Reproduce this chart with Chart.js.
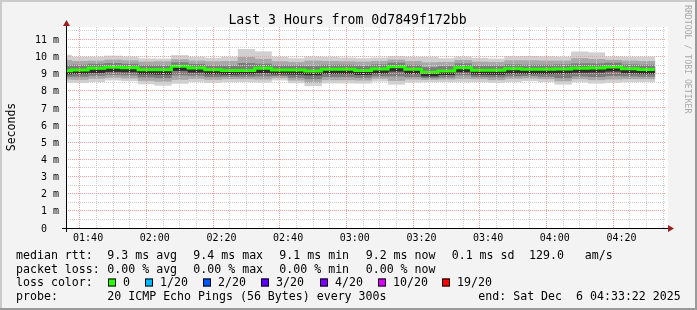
<!DOCTYPE html>
<html><head><meta charset="utf-8">
<script src="https://cdn.jsdelivr.net/npm/chart.js@4.4.1/dist/chart.umd.min.js"></script>
<style>html,body{margin:0;padding:0;background:#f3f3f3;}canvas{display:block}</style>
</head><body>
<canvas id="c" width="697" height="310"></canvas>
<script>
// ---- data ----
const stepEnds = ['01:35','01:40','01:45','01:50','01:55','02:00','02:05','02:10','02:15','02:20','02:25','02:30',
  '02:35','02:40','02:45','02:50','02:55','03:00','03:05','03:10','03:15','03:20','03:25','03:30',
  '03:35','03:40','03:45','03:50','03:55','04:00','04:05','04:10','04:15','04:20','04:25','04:30'];
const medianRtt = [9.17,9.21,9.31,9.38,9.35,9.23,9.23,9.43,9.33,9.23,9.19,9.19,
  9.31,9.21,9.22,9.16,9.25,9.26,9.18,9.27,9.40,9.25,9.08,9.16,
  9.35,9.20,9.20,9.28,9.25,9.26,9.27,9.32,9.33,9.39,9.29,9.24];
const smokeMax = [10.08,9.95,9.95,10.03,9.97,9.87,9.86,10.06,9.95,9.89,9.95,10.42,
  10.28,9.95,9.88,9.98,9.95,9.92,9.88,9.92,10.00,9.95,9.95,9.88,
  9.97,9.90,9.86,10.00,10.01,9.99,9.96,10.27,10.22,9.98,9.95,9.96];
const smokeP85 = [9.78,9.72,9.74,9.80,9.76,9.68,9.70,9.82,9.74,9.70,9.72,9.95,
  9.85,9.70,9.66,9.74,9.72,9.70,9.68,9.72,9.80,9.72,9.64,9.66,
  9.78,9.68,9.66,9.76,9.76,9.74,9.74,9.88,9.84,9.78,9.74,9.72];
const smokeP70 = [9.48,9.50,9.56,9.60,9.56,9.48,9.47,9.64,9.55,9.47,9.46,9.60,
  9.56,9.47,9.46,9.44,9.50,9.50,9.45,9.52,9.62,9.50,9.36,9.42,
  9.58,9.46,9.45,9.52,9.50,9.50,9.52,9.58,9.58,9.62,9.52,9.50];
const smokeCoreLo = [8.98,9.00,9.06,9.12,9.10,8.98,8.96,9.18,9.08,8.98,8.96,8.98,
  9.05,8.98,8.96,8.92,9.00,9.00,8.94,9.02,9.14,9.00,8.86,8.94,
  9.10,8.96,8.95,9.02,9.00,9.00,9.02,9.07,9.08,9.14,9.04,9.00];
const smokeP30 = [8.84,8.84,8.90,8.95,8.92,8.80,8.76,8.92,8.90,8.82,8.84,8.84,
  8.86,8.88,8.78,8.70,8.82,8.82,8.78,8.86,8.86,8.82,8.76,8.80,
  8.92,8.82,8.80,8.86,8.88,8.84,8.76,8.86,8.82,8.88,8.86,8.84];
const smokeP15 = [8.68,8.66,8.72,8.78,8.74,8.60,8.55,8.66,8.72,8.66,8.70,8.70,
  8.68,8.76,8.62,8.48,8.64,8.64,8.62,8.72,8.60,8.68,8.66,8.68,
  8.72,8.70,8.64,8.72,8.74,8.70,8.58,8.70,8.64,8.68,8.70,8.70];
const smokeMin = [8.50,8.47,8.53,8.62,8.58,8.40,8.32,8.43,8.53,8.47,8.53,8.53,
  8.50,8.62,8.46,8.29,8.45,8.45,8.44,8.56,8.38,8.50,8.53,8.53,
  8.52,8.53,8.48,8.53,8.58,8.53,8.38,8.52,8.44,8.48,8.53,8.53];
const xTickLabels = ['01:40','02:00','02:20','02:40','03:00','03:20','03:40','04:00','04:20'];
const yTickLabels = ['0','1 m','2 m','3 m','4 m','5 m','6 m','7 m','8 m','9 m','10 m','11 m'];
const timeStart = '01:33:22', timeEnd = '04:33:22';
const titleText = 'Last 3 Hours from 0d7849f172bb';
const yTitle = 'Seconds';
const creditText = 'RRDTOOL / TOBI OETIKER';
const rttStats = ['9.3 ms avg','9.4 ms max','9.1 ms min','9.2 ms now','0.1 ms sd','129.0   am/s'];
const lossStats = ['0.00 % avg','0.00 % max','0.00 % min','0.00 % now'];
const lossLabels = ['0','1/20','2/20','3/20','4/20','10/20','19/20'];
const lossColors = ['#26ff00','#00b8ff','#0059ff','#5e00ff','#7e00ff','#dd00ff','#ff0000'];
const probeText = '20 ICMP Echo Pings (56 Bytes) every 300s';
const endText = 'end: Sat Dec  6 04:33:22 2025';

// ---- helpers ----
const toMin = s => { const p = s.split(':').map(Number); return p[0]*60 + p[1] + (p[2]||0)/60; };
const STEP = 5;
const ends = stepEnds.map(toMin);
const centers = ends.map(e => e - STEP/2);
const band = (lo, hi) => centers.map((x, i) => ({x, y: [lo[i], hi[i]]}));
const medLine = [];
ends.forEach((e, i) => { medLine.push({x: e - STEP, y: medianRtt[i]}); medLine.push({x: e, y: medianRtt[i]}); });
const xMajor = xTickLabels.map(toMin);
const xTicks = [];
for (let m = Math.ceil(toMin(timeStart)/5)*5; m <= toMin(timeEnd); m += 5) xTicks.push(m);
const yTicks = [];
for (let v = 0; v <= 11.5; v += 0.5) yTicks.push(v);

const MONO = '"DejaVu Sans Mono", monospace';
const MAJ = '#f0a0a0', MIN = '#d0d0d0';
const barDs = (label, lo, hi, color, order) => ({
  type: 'bar', label, data: band(lo, hi), backgroundColor: color, borderWidth: 0,
  grouped: false, barPercentage: 1, categoryPercentage: 1, order, clip: 0
});
const tv = c => (c && c.tick ? c.tick.value : null);

const rrdPlugin = {
  id: 'rrd',
  beforeDraw(chart) {
    const ctx = chart.ctx, a = chart.chartArea;
    ctx.save();
    ctx.fillStyle = '#f3f3f3'; ctx.fillRect(0, 0, 697, 310);
    ctx.fillStyle = '#cbcbcb'; ctx.fillRect(0, 0, 697, 2); ctx.fillRect(0, 0, 2, 310);
    ctx.fillStyle = '#9a9a9a'; ctx.fillRect(0, 308, 697, 2); ctx.fillRect(695, 0, 2, 310);
    ctx.fillStyle = '#ffffff'; ctx.fillRect(a.left, a.top, a.right - a.left + 2, a.bottom - a.top);
    ctx.restore();
  },
  afterDraw(chart) {
    const ctx = chart.ctx, a = chart.chartArea;
    ctx.save();
    // axes
    ctx.strokeStyle = '#000'; ctx.lineWidth = 1;
    ctx.beginPath();
    ctx.moveTo(62, a.bottom + 0.5); ctx.lineTo(a.right + 2, a.bottom + 0.5);
    ctx.moveTo(a.left + 0.5, a.bottom + 4); ctx.lineTo(a.left + 0.5, a.top - 1);
    ctx.stroke();
    ctx.fillStyle = '#9a1f1f';
    ctx.beginPath();
    ctx.moveTo(a.right + 2, a.bottom - 3); ctx.lineTo(a.right + 2, a.bottom + 4); ctx.lineTo(a.right + 8, a.bottom + 0.5); ctx.closePath(); ctx.fill();
    ctx.beginPath();
    ctx.moveTo(a.left - 3, a.top - 1); ctx.lineTo(a.left + 4, a.top - 1); ctx.lineTo(a.left + 0.5, a.top - 7); ctx.closePath(); ctx.fill();
    // title
    ctx.fillStyle = '#000';
    ctx.font = '13.2px ' + MONO; ctx.textAlign = 'center'; ctx.textBaseline = 'alphabetic';
    ctx.fillText(titleText, 347.5, 24);
    // y title
    ctx.save();
    ctx.translate(14.5, 127); ctx.rotate(-Math.PI/2);
    ctx.font = '11.5px ' + MONO; ctx.textAlign = 'center';
    ctx.fillText(yTitle, 0, 0);
    ctx.restore();
    // credit
    ctx.save();
    ctx.translate(684.5, 5); ctx.rotate(Math.PI/2);
    ctx.font = '8.2px ' + MONO; ctx.textAlign = 'left'; ctx.fillStyle = '#a8a8a8';
    ctx.fillText(creditText, 0, 0);
    ctx.restore();
    // legend
    ctx.font = '11.6px ' + MONO; ctx.textAlign = 'left'; ctx.fillStyle = '#000';
    const rows = [259, 272.7, 286.4, 300.1];
    const statX = [107.3, 193.3, 279.3, 365.7, 451.7, 529];
    ctx.fillText('median rtt:', 16, rows[0]);
    rttStats.forEach((t, i) => ctx.fillText(t, statX[i], rows[0]));
    ctx.fillText('packet loss:', 16, rows[1]);
    lossStats.forEach((t, i) => ctx.fillText(t, statX[i], rows[1]));
    ctx.fillText('loss color:', 16, rows[2]);
    const sqX = [108, 145, 203, 261, 320, 378, 442];
    lossLabels.forEach((t, i) => {
      ctx.fillStyle = lossColors[i]; ctx.fillRect(sqX[i], 278.5, 8, 8);
      ctx.strokeStyle = '#000'; ctx.strokeRect(sqX[i] + 0.5, 279, 7, 7);
      ctx.fillStyle = '#000'; ctx.fillText(t, sqX[i] + 15, rows[2]);
    });
    ctx.fillText('probe:', 16, rows[3]);
    ctx.fillText(probeText, 107.3, rows[3]);
    ctx.fillText(endText, 478.3, rows[3]);
    ctx.restore();
  }
};

new Chart(document.getElementById('c'), {
  type: 'bar',
  data: {
    datasets: [
      {type: 'line', label: 'median', data: medLine, borderColor: '#26ff00', borderWidth: 3,
       pointRadius: 0, tension: 0, borderCapStyle: 'butt', borderJoinStyle: 'miter', order: 0, clip: 0},
      barDs('core', smokeCoreLo, medianRtt, '#2e2e2e', 1),
      barDs('p30-p70', smokeP30, smokeP70, '#7c7c7c', 2),
      barDs('p15-p85', smokeP15, smokeP85, '#a8a8a8', 3),
      barDs('min-max', smokeMin, smokeMax, '#d0d0d0', 4)
    ]
  },
  plugins: [rrdPlugin],
  options: {
    responsive: false, animation: false, devicePixelRatio: 1,
    layout: {padding: {top: 27, right: 31, bottom: 0, left: 0}},
    plugins: {legend: {display: false}, tooltip: {enabled: false}, title: {display: false}},
    scales: {
      x: {
        type: 'linear', min: toMin(timeStart), max: toMin(timeEnd), offset: false,
        afterBuildTicks: s => { s.ticks = xTicks.map(v => ({value: v})); },
        afterFit: s => { s.height = 82; },
        ticks: {autoSkip: false, maxRotation: 0, padding: 4, color: '#000', font: {family: MONO, size: 10},
          callback: v => { const i = xMajor.indexOf(v); return i >= 0 ? xTickLabels[i] : ''; }},
        grid: {z: 1, drawTicks: false, lineWidth: 1,
          color: c => (xMajor.indexOf(tv(c)) >= 0 ? MAJ : MIN)},
        border: {display: false, dash: [1, 1]}
      },
      y: {
        type: 'linear', min: 0, max: 11.72,
        afterBuildTicks: s => { s.ticks = yTicks.map(v => ({value: v})); },
        afterFit: s => { s.width = 66; },
        ticks: {autoSkip: false, padding: 7, labelOffset: 1, color: '#000', font: {family: MONO, size: 10},
          callback: v => Number.isInteger(v) ? (v === 0 ? yTickLabels[0] + '  ' : yTickLabels[v]) : ''},
        grid: {z: 1, drawTicks: false, lineWidth: 1,
          color: c => { const v = tv(c); return (v === null || v === 0) ? 'rgba(0,0,0,0)' : (Number.isInteger(v) ? MAJ : MIN); }},
        border: {display: false, dash: [1, 1]}
      }
    }
  }
});
</script>
</body></html>
